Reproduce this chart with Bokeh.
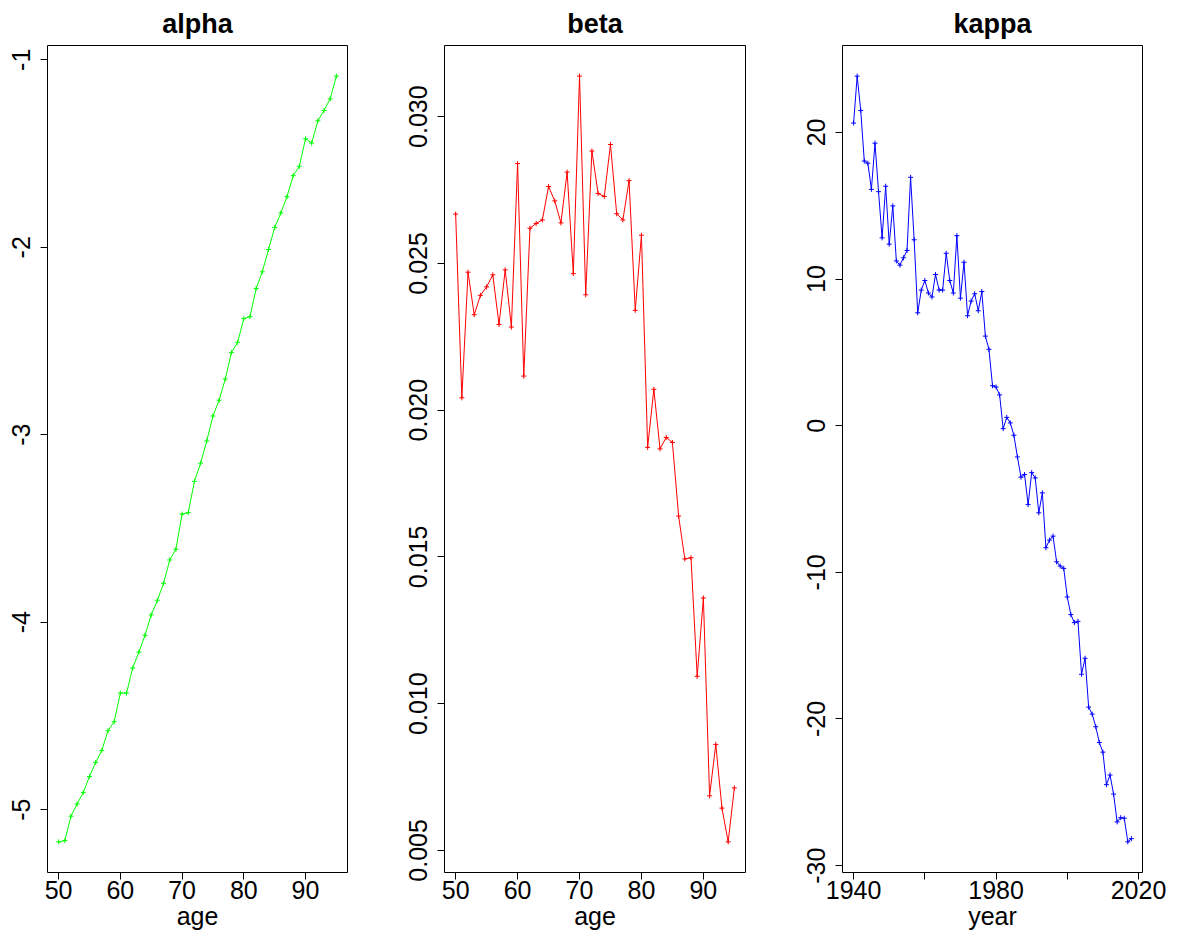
from bokeh.plotting import figure
from bokeh.layouts import row
from bokeh.models import Range1d, FixedTicker, PrintfTickFormatter, Title
from bokeh.embed import file_html
from bokeh.resources import INLINE

ages = list(range(50, 96))
alpha = [-5.172, -5.165, -5.035, -4.970, -4.908, -4.823, -4.748, -4.684, -4.579, -4.531,
         -4.378, -4.378, -4.245, -4.160, -4.070, -3.961, -3.883, -3.793, -3.668, -3.611,
         -3.423, -3.416, -3.249, -3.152, -3.033, -2.900, -2.816, -2.703, -2.562, -2.507,
         -2.381, -2.370, -2.220, -2.131, -2.012, -1.895, -1.817, -1.730, -1.618, -1.568,
         -1.421, -1.444, -1.325, -1.270, -1.208, -1.087]
beta = [0.02668, 0.02042, 0.02470, 0.02325, 0.02391, 0.02420, 0.02461, 0.02292, 0.02478, 0.02283,
        0.02840, 0.02116, 0.02620, 0.02636, 0.02648, 0.02762, 0.02713, 0.02638, 0.02811, 0.02465,
        0.03138, 0.02393, 0.02883, 0.02738, 0.02728, 0.02905, 0.02669, 0.02648, 0.02782, 0.02340,
        0.02596, 0.01873, 0.02071, 0.01868, 0.01907, 0.01890, 0.01639, 0.01493, 0.01497, 0.01093,
        0.01360, 0.00686, 0.00861, 0.00644, 0.00529, 0.00713]
years = list(range(1940, 2019))
kappa = [20.64, 23.84, 21.50, 18.05, 17.90, 16.12, 19.27, 15.96, 12.81, 16.33,
         12.38, 14.99, 11.24, 10.95, 11.45, 11.95, 16.94, 12.68, 7.70, 9.25,
         9.90, 9.05, 8.78, 10.31, 9.25, 9.25, 11.76, 9.90, 9.05, 12.96,
         8.70, 11.15, 7.50, 8.50, 9.00, 7.84, 9.15, 6.11, 5.21, 2.73,
         2.64, 2.10, -0.20, 0.57, 0.19, -0.65, -2.13, -3.51, -3.33, -5.38,
         -3.20, -3.56, -5.94, -4.58, -8.32, -7.80, -7.53, -9.28, -9.57, -9.73,
         -11.68, -12.88, -13.43, -13.34, -16.95, -15.86, -19.19, -19.67, -20.53, -21.60,
         -22.26, -24.48, -23.82, -25.12, -27.02, -26.73, -26.77, -28.38, -28.16]

alpha_yticks = [-5, -4, -3, -2, -1]
beta_yticks = [0.005, 0.010, 0.015, 0.020, 0.025, 0.030]
kappa_yticks = [-30, -20, -10, 0, 10, 20]
age_xticks = [50, 60, 70, 80, 90]
year_xticks = [1940, 1960, 1980, 2000, 2020]
year_hidden = [1960, 2000]

FONT = "Liberation Sans"


def padded(vals):
    lo, hi = min(vals), max(vals)
    ext = (hi - lo) * 0.04
    return Range1d(lo - ext, hi + ext)


def panel(x, y, color, title, xlabel, xticks, yticks, yfmt, width, left, right):
    p = figure(width=width, height=932, output_backend="svg", toolbar_location=None,
               x_range=padded(x), y_range=padded(y),
               min_border_left=left, min_border_right=right,
               min_border_top=45, min_border_bottom=60)
    t = Title(text=title, text_font=FONT, text_font_size="27px", text_font_style="bold",
              align="center", standoff=13, text_color="black")
    p.add_layout(t, "above")
    p.line(x, y, line_color=color, line_width=1)
    p.scatter(x, y, marker="cross", size=5, line_color=color, line_width=1)
    p.grid.visible = False
    p.outline_line_color = "black"
    p.outline_line_width = 1
    p.outline_line_alpha = 1
    p.background_fill_color = "white"
    p.border_fill_color = "white"
    for ax in (p.xaxis[0], p.yaxis[0]):
        ax.axis_line_color = None
        ax.major_tick_line_color = "black"
        ax.major_tick_out = 7
        ax.major_tick_in = 0
        ax.minor_tick_line_color = None
        ax.major_label_text_font = FONT
        ax.major_label_text_font_size = "25px"
        ax.major_label_text_color = "black"
    p.xaxis[0].ticker = FixedTicker(ticks=xticks)
    p.xaxis[0].formatter = PrintfTickFormatter(format="%d")
    p.xaxis[0].major_label_standoff = 1
    p.xaxis[0].axis_label = xlabel
    p.xaxis[0].axis_label_text_font = FONT
    p.xaxis[0].axis_label_text_font_size = "25px"
    p.xaxis[0].axis_label_text_font_style = "normal"
    p.xaxis[0].axis_label_text_color = "black"
    p.xaxis[0].axis_label_standoff = 0
    p.yaxis[0].ticker = FixedTicker(ticks=yticks)
    p.yaxis[0].formatter = PrintfTickFormatter(format=yfmt)
    p.yaxis[0].major_label_orientation = "vertical"
    p.yaxis[0].major_label_standoff = 10
    return p


p1 = panel(ages, alpha, "#00FF00", "alpha", "age", age_xticks, alpha_yticks, "%d", 394, 47, 47)
p2 = panel(ages, beta, "#FF0000", "beta", "age", age_xticks, beta_yticks, "%.3f", 394, 50, 43)
p3 = panel(years, kappa, "#0000FF", "kappa", "year", year_xticks, kappa_yticks, "%d", 393, 54, 39)
p3.xaxis[0].major_label_overrides = {yr: "" for yr in year_hidden}

layout = row(p1, p2, p3)
open("out.html", "w").write(file_html(layout, INLINE))
